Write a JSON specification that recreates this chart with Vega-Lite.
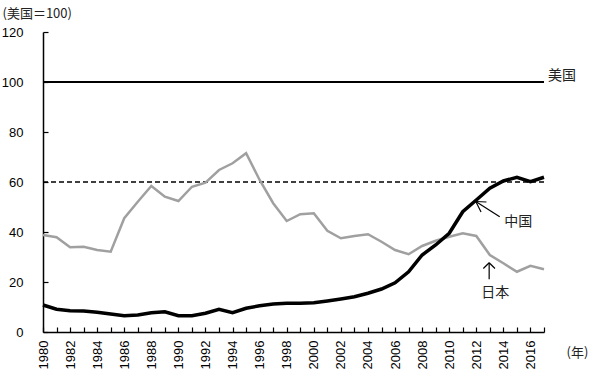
{
  "$schema": "https://vega.github.io/schema/vega-lite/v6.json",
  "autosize": "none",
  "width": 501,
  "height": 300,
  "padding": {"left": 43, "top": 32, "right": 50, "bottom": 48},
  "background": "white",
  "config": {"view": {"stroke": null}},
  "datasets": {
    "series": [
      {"year":1980,"country":"中国","value":10.8},{"year":1981,"country":"中国","value":9.1},{"year":1982,"country":"中国","value":8.5},{"year":1983,"country":"中国","value":8.4},{"year":1984,"country":"中国","value":7.9},{"year":1985,"country":"中国","value":7.2},{"year":1986,"country":"中国","value":6.5},{"year":1987,"country":"中国","value":6.8},{"year":1988,"country":"中国","value":7.7},{"year":1989,"country":"中国","value":8.1},{"year":1990,"country":"中国","value":6.5},{"year":1991,"country":"中国","value":6.5},{"year":1992,"country":"中国","value":7.5},{"year":1993,"country":"中国","value":9.1},{"year":1994,"country":"中国","value":7.7},{"year":1995,"country":"中国","value":9.5},{"year":1996,"country":"中国","value":10.5},{"year":1997,"country":"中国","value":11.2},{"year":1998,"country":"中国","value":11.5},{"year":1999,"country":"中国","value":11.5},{"year":2000,"country":"中国","value":11.7},{"year":2001,"country":"中国","value":12.4},{"year":2002,"country":"中国","value":13.2},{"year":2003,"country":"中国","value":14.1},{"year":2004,"country":"中国","value":15.5},{"year":2005,"country":"中国","value":17.2},{"year":2006,"country":"中国","value":19.7},{"year":2007,"country":"中国","value":24.1},{"year":2008,"country":"中国","value":30.8},{"year":2009,"country":"中国","value":34.8},{"year":2010,"country":"中国","value":39.5},{"year":2011,"country":"中国","value":48.1},{"year":2012,"country":"中国","value":52.8},{"year":2013,"country":"中国","value":57.5},{"year":2014,"country":"中国","value":60.4},{"year":2015,"country":"中国","value":61.9},{"year":2016,"country":"中国","value":60.1},{"year":2017,"country":"中国","value":61.9},
      {"year":1980,"country":"日本","value":38.8},{"year":1981,"country":"日本","value":37.9},{"year":1982,"country":"日本","value":33.9},{"year":1983,"country":"日本","value":34.1},{"year":1984,"country":"日本","value":32.8},{"year":1985,"country":"日本","value":32.1},{"year":1986,"country":"日本","value":45.5},{"year":1987,"country":"日本","value":52.1},{"year":1988,"country":"日本","value":58.4},{"year":1989,"country":"日本","value":54.1},{"year":1990,"country":"日本","value":52.4},{"year":1991,"country":"日本","value":58.1},{"year":1992,"country":"日本","value":59.7},{"year":1993,"country":"日本","value":64.8},{"year":1994,"country":"日本","value":67.5},{"year":1995,"country":"日本","value":71.5},{"year":1996,"country":"日本","value":60.8},{"year":1997,"country":"日本","value":51.5},{"year":1998,"country":"日本","value":44.4},{"year":1999,"country":"日本","value":47.1},{"year":2000,"country":"日本","value":47.5},{"year":2001,"country":"日本","value":40.5},{"year":2002,"country":"日本","value":37.5},{"year":2003,"country":"日本","value":38.4},{"year":2004,"country":"日本","value":39.1},{"year":2005,"country":"日本","value":36.1},{"year":2006,"country":"日本","value":32.8},{"year":2007,"country":"日本","value":31.1},{"year":2008,"country":"日本","value":34.4},{"year":2009,"country":"日本","value":36.5},{"year":2010,"country":"日本","value":38.1},{"year":2011,"country":"日本","value":39.5},{"year":2012,"country":"日本","value":38.4},{"year":2013,"country":"日本","value":30.8},{"year":2014,"country":"日本","value":27.5},{"year":2015,"country":"日本","value":24.1},{"year":2016,"country":"日本","value":26.5},{"year":2017,"country":"日本","value":25.1}
    ],
    "arrows": [
      {"x":2011.96,"y":52.2,"x2":2013.73,"y2":46.1},
      {"x":2011.96,"y":52.2,"x2":2012.75,"y2":52.0},
      {"x":2011.96,"y":52.2,"x2":2012.35,"y2":48.0},
      {"x":2012.95,"y":27.7,"x2":2012.95,"y2":21.1},
      {"x":2012.95,"y":27.7,"x2":2012.52,"y2":25.4},
      {"x":2012.95,"y":27.7,"x2":2013.38,"y2":25.4}
    ],
    "labels": [
      {"label":"中国","year":2015.1,"value":44.1},
      {"label":"日本","year":2013.4,"value":15.5}
    ]
  },
  "encoding": {
    "x": {
      "field": "year", "type": "quantitative",
      "scale": {"domain": [1980, 2017], "nice": false, "zero": false},
      "axis": {
        "title": "(年)", "titleAngle": 0, "titleAlign": "left", "titleBaseline": "middle", "titleX": 523, "titleY": 20,
        "titleFont": "Noto Sans CJK JP", "titleFontSize": 13, "titleFontWeight": "normal", "titleColor": "#222",
        "values": [1980,1981,1982,1983,1984,1985,1986,1987,1988,1989,1990,1991,1992,1993,1994,1995,1996,1997,1998,1999,2000,2001,2002,2003,2004,2005,2006,2007,2008,2009,2010,2011,2012,2013,2014,2015,2016,2017],
        "labelExpr": "datum.value % 2 == 0 ? datum.value : ''",
        "labelAngle": -90, "labelAlign": "right", "labelBaseline": "middle",
        "labelFont": "Liberation Sans", "labelFontSize": 13, "labelColor": "black",
        "labelPadding": 13, "labelOverlap": false,
        "tickSize": -5, "tickColor": "black", "tickWidth": 1.2,
        "domainColor": "black", "domainWidth": 1.5, "grid": false
      }
    },
    "y": {
      "field": "value", "type": "quantitative",
      "scale": {"domain": [0, 120], "nice": false},
      "axis": {
        "title": "(美国＝100)", "titleAngle": 0, "titleAlign": "left", "titleBaseline": "middle",
        "titleX": -41, "titleY": -19,
        "titleFont": "Noto Sans CJK JP", "titleFontSize": 13, "titleFontWeight": "normal", "titleColor": "#222",
        "values": [0,20,40,60,80,100,120],
        "labelFont": "Liberation Sans", "labelFontSize": 13, "labelColor": "black",
        "labelPadding": 25,
        "tickSize": -5, "tickColor": "black", "tickWidth": 1.2,
        "domainColor": "black", "domainWidth": 1.5, "grid": false
      }
    }
  },
  "layer": [
    {
      "data": {"values": [{"value": 60}]},
      "mark": {"type": "rule", "color": "black", "strokeWidth": 1.5, "strokeDash": [5, 3]},
      "encoding": {"y": {"field": "value", "type": "quantitative"}, "x": null}
    },
    {
      "data": {"values": [{"value": 100}]},
      "mark": {"type": "rule", "color": "black", "strokeWidth": 2},
      "encoding": {"y": {"field": "value", "type": "quantitative"}, "x": null}
    },
    {
      "data": {"name": "series"},
      "transform": [{"filter": "datum.country == '日本'"}],
      "mark": {"type": "line", "color": "#a0a0a0", "strokeWidth": 2.5}
    },
    {
      "data": {"name": "series"},
      "transform": [{"filter": "datum.country == '中国'"}],
      "mark": {"type": "line", "color": "black", "strokeWidth": 3.5}
    },
    {
      "data": {"name": "arrows"},
      "mark": {"type": "rule", "color": "black", "strokeWidth": 1.2},
      "encoding": {
        "x": {"field": "x", "type": "quantitative"},
        "y": {"field": "y", "type": "quantitative"},
        "x2": {"field": "x2"},
        "y2": {"field": "y2"}
      }
    },
    {
      "data": {"name": "labels"},
      "mark": {"type": "text", "font": "Noto Sans CJK JP", "fontSize": 14, "color": "#222", "align": "center", "baseline": "middle"},
      "encoding": {"text": {"field": "label"}}
    },
    {
      "data": {"values": [{"label": "美国", "year": 2017, "value": 102.5}]},
      "mark": {"type": "text", "font": "Noto Sans CJK JP", "fontSize": 14, "color": "#222", "align": "left", "baseline": "middle", "dx": 4},
      "encoding": {"text": {"field": "label"}}
    }
  ]
}
